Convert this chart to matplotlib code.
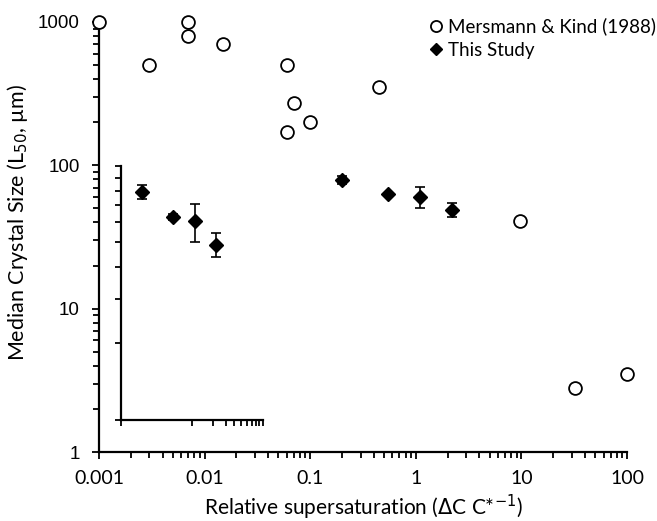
import numpy as np
import matplotlib
matplotlib.use("Agg")
import matplotlib.pyplot as plt
from matplotlib.lines import Line2D
from matplotlib.ticker import LogLocator, NullFormatter, FixedLocator

# Mersmann & Kind (1988) literature data
mk_x = [0.001, 0.003, 0.007, 0.007, 0.015, 0.06, 0.07, 0.06, 0.1, 0.45, 9.7, 32, 100]
mk_y = [1000, 500, 1000, 800, 700, 500, 270, 170, 200, 350, 41, 2.8, 3.5]

# this study
ts_x = [0.2, 0.55, 1.1, 2.2]
ts_y = [79, 63, 60.5, 49]
ts_err = [5, 1.5, 10.5, 5.2]

x_ticks = [0.001, 0.01, 0.1, 1, 10, 100]
x_labels = ["0.001", "0.01", "0.1", "1", "10", "100"]
y_ticks = [1, 10, 100, 1000]
y_labels = ["1", "10", "100", "1000"]

plt.rcParams['font.family'] = ['Lato', 'DejaVu Sans']

fig = plt.figure(figsize=(6.57, 5.21), dpi=100)
ax = fig.add_axes([0.1507, 0.1324, 0.8036, 0.8254])

ax.set_xscale('log')
ax.set_yscale('log')
ax.set_xlim(0.001, 100)
ax.set_ylim(1, 1000)

ax.scatter(mk_x, mk_y, s=85, facecolors='white', edgecolors='black', linewidths=1.3,
           zorder=3, clip_on=False)
ax.errorbar(ts_x, ts_y, yerr=ts_err, fmt='D', color='black', markersize=7.5,
            ecolor='black', elinewidth=1.2, capsize=3.5, capthick=1.2, zorder=4)

for s in ['top', 'right']:
    ax.spines[s].set_visible(False)
for s in ['left', 'bottom']:
    ax.spines[s].set_linewidth(1.6)

ax.set_xticks(x_ticks)
ax.set_xticklabels(x_labels, fontsize=14)
ax.set_yticks(y_ticks)
ax.set_yticklabels(y_labels, fontsize=13.5, family='Liberation Sans')
ax.xaxis.set_minor_locator(LogLocator(base=10, subs=np.arange(2, 10)))
ax.yaxis.set_minor_locator(LogLocator(base=10, subs=np.arange(2, 10)))
ax.xaxis.set_minor_formatter(NullFormatter())
ax.yaxis.set_minor_formatter(NullFormatter())
ax.tick_params(which='major', direction='out', length=5, width=1.3)
ax.tick_params(axis='x', which='major', pad=8)
ax.tick_params(axis='y', which='major', pad=9)
ax.tick_params(which='minor', direction='out', length=4, width=1.3)

ax.set_xlabel('Relative supersaturation ($\\Delta$C C*$^{-1}$)', fontsize=15, labelpad=4)
ax.set_ylabel('Median Crystal Size (L$_{50}$, µm)', fontsize=15.5)
ax.yaxis.set_label_coords(-0.13, 0.535)

handles = [
    Line2D([], [], linestyle='none', marker='o', markersize=8, markerfacecolor='white',
           markeredgecolor='black', markeredgewidth=1.3),
    Line2D([], [], linestyle='none', marker='D', markersize=6.5, color='black'),
]
fig.legend(handles, ['Mersmann & Kind (1988)', 'This Study'], loc='upper left',
           bbox_to_anchor=(0.652, 0.967), bbox_transform=fig.transFigure, frameon=False,
           fontsize=13.5, handlelength=0.8, handletextpad=0.25, borderpad=0,
           borderaxespad=0, labelspacing=0.35)

# leftover secondary axes with the same data
ins = fig.add_axes([0.1837, 0.1948, 0.2162, 0.4866])
ins.set_xscale('log')
ins.set_yscale('log')
ins.set_xlim(0.1, 10)
ins.set_ylim(10, 100)
ins.errorbar(ts_x, ts_y, yerr=ts_err, fmt='D', color='black', markersize=7.5,
             ecolor='black', elinewidth=1.2, capsize=3.5, capthick=1.2)
ins.patch.set_alpha(0)
for s in ['top', 'right']:
    ins.spines[s].set_visible(False)
for s in ['left', 'bottom']:
    ins.spines[s].set_linewidth(1.6)
ins.xaxis.set_major_locator(FixedLocator([0.1, 1, 2, 3, 4, 5, 6, 7, 8, 9, 10]))
ins.xaxis.set_minor_locator(FixedLocator([]))
ins.yaxis.set_major_locator(FixedLocator([10, 20, 30, 40, 50, 60, 70, 80, 90, 100]))
ins.yaxis.set_minor_locator(FixedLocator([]))
ins.set_xticklabels([])
ins.set_yticklabels([])
ins.tick_params(which='major', direction='out', length=4, width=1.3)

fig.savefig('out.png', dpi=100)
